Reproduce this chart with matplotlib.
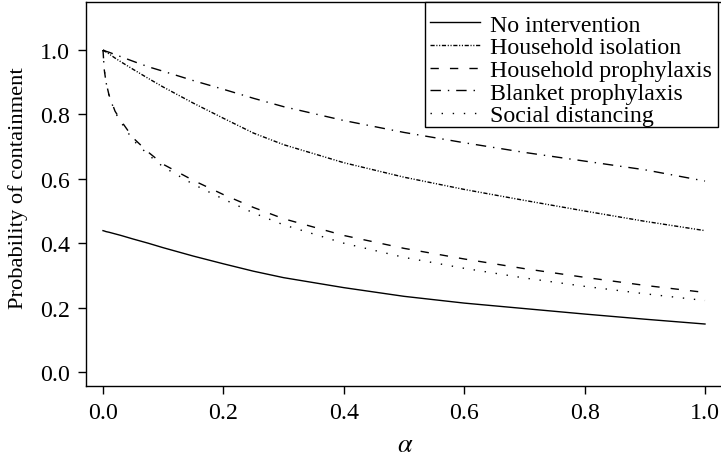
import numpy as np
import matplotlib
matplotlib.use("Agg")
import matplotlib.pyplot as plt
from matplotlib.patches import Rectangle

# valores
alpha = [0.0, 0.002, 0.005, 0.01, 0.02, 0.03, 0.05, 0.075, 0.1, 0.15, 0.2,
         0.25, 0.3, 0.4, 0.5, 0.6, 0.7, 0.8, 0.9, 1.0]

no_intervention = [0.439, 0.438, 0.436, 0.434, 0.429, 0.424, 0.413, 0.400, 0.386,
                   0.360, 0.336, 0.313, 0.293, 0.262, 0.235, 0.214, 0.197, 0.180,
                   0.164, 0.149]
household_isolation = [1.0, 0.997, 0.994, 0.988, 0.975, 0.963, 0.940, 0.912, 0.885,
                       0.835, 0.788, 0.742, 0.706, 0.650, 0.605, 0.567, 0.533, 0.500,
                       0.468, 0.439]
household_prophylaxis = [1.0, 0.94, 0.90, 0.86, 0.81, 0.78, 0.727, 0.683, 0.645,
                         0.595, 0.551, 0.511, 0.476, 0.424, 0.384, 0.351, 0.321,
                         0.294, 0.269, 0.247]
blanket_prophylaxis = [1.0, 0.9985, 0.996, 0.993, 0.986, 0.979, 0.965, 0.948, 0.934,
                       0.905, 0.878, 0.850, 0.824, 0.781, 0.744, 0.712, 0.682, 0.655,
                       0.628, 0.593]
social_distancing = [1.0, 0.94, 0.90, 0.858, 0.807, 0.775, 0.720, 0.675, 0.637,
                     0.583, 0.537, 0.494, 0.457, 0.400, 0.356, 0.322, 0.292, 0.266,
                     0.243, 0.222]

etiquetas = ["No intervention", "Household isolation", "Household prophylaxis",
             "Blanket prophylaxis", "Social distancing"]
ticks = [0.0, 0.2, 0.4, 0.6, 0.8, 1.0]
ticks_txt = ["0.0", "0.2", "0.4", "0.6", "0.8", "1.0"]

plt.rcParams['font.family'] = ['Liberation Serif', 'DejaVu Serif']
plt.rcParams['mathtext.fontset'] = 'stix'
plt.rcParams['lines.scale_dashes'] = False

W, H = 721, 456
fs = 17.2
fig = plt.figure(figsize=(W/100, H/100), dpi=100)
ax = fig.add_axes([86/W, 69/H, (W-86)/W, 384/H])

ax.plot(alpha, no_intervention, color='black', lw=1.0, label=etiquetas[0])
ax.plot(alpha, household_isolation, color='black', lw=1.0,
        dashes=(3, 1.2, 0.8, 1.2, 0.8, 1.2), label=etiquetas[1])
ax.plot(alpha, household_prophylaxis, color='black', lw=1.0,
        dashes=(6, 8), label=etiquetas[2])
ax.plot(alpha, blanket_prophylaxis, color='black', lw=1.0,
        dashes=(7.5, 5, 1, 5), label=etiquetas[3])
ax.plot(alpha, social_distancing, color='black', lw=1.0,
        dashes=(1, 7), label=etiquetas[4])

ax.set_xlim(-17/602, -17/602 + 635/602)
ax.set_ylim(-14/322, 370/322)
ax.set_xticks(ticks)
ax.set_yticks(ticks)
ax.set_xticklabels(ticks_txt)
ax.set_yticklabels(ticks_txt)
ax.tick_params(direction='out', length=5.5, width=1.0, labelsize=fs)
ax.tick_params(axis='x', pad=6.0)
ax.tick_params(axis='y', pad=6.0)

ax.spines['right'].set_visible(False)
for lado in ['left', 'bottom', 'top']:
    ax.spines[lado].set_linewidth(1.0)

ax.set_xlabel(r'$\alpha$', fontsize=19)
ax.xaxis.set_label_coords((405-86)/635, (387-435)/384)
ax.set_ylabel("Probability of containment", fontsize=16.2)
ax.yaxis.set_label_coords((28-86)/635, (387-188)/384)

# caja de la leyenda dibujada aparte
caja = Rectangle((425/W, (H-128)/H), 293/W, 125/H, transform=fig.transFigure,
                 facecolor='white', edgecolor='black', lw=1.0, zorder=5,
                 clip_on=False)
ax.add_patch(caja)

leg = ax.legend(loc='upper left', bbox_to_anchor=(430/W, (H-15)/H),
                bbox_transform=fig.transFigure, fontsize=fs, frameon=False,
                borderaxespad=0, borderpad=0, labelspacing=0.04,
                handlelength=2.1, handletextpad=0.42)
leg.set_zorder(6)

fig.savefig("out.png", dpi=100)
